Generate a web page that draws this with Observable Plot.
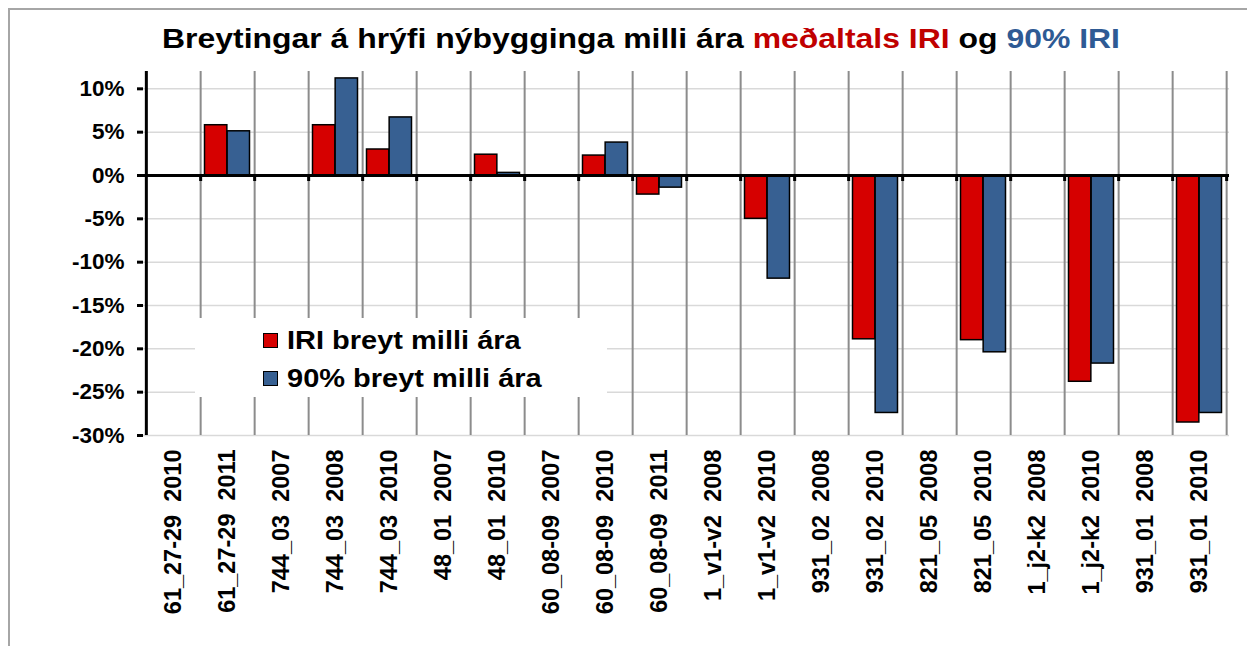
<!DOCTYPE html>
<html>
<head>
<meta charset="utf-8">
<script src="https://cdn.jsdelivr.net/npm/d3@7"></script>
<script src="https://cdn.jsdelivr.net/npm/@observablehq/plot@0.6"></script>
<style>
  html, body { margin: 0; padding: 0; background: #fff; }
  body { width: 1247px; height: 646px; overflow: hidden; position: relative; font-family: "Liberation Sans", Arial, sans-serif; }
  #border { position: absolute; left: 8px; top: 8px; width: 1300px; height: 700px; border: 2px solid #a6a6a6; box-sizing: border-box; pointer-events: none; }
  #title { position: absolute; left: 0; top: 23px; width: 1282px; text-align: center; font-size: 28px; font-weight: bold; color: #000; white-space: nowrap; transform: scaleX(1.14); transform-origin: 641px 0; }
  #title .r { color: #c00000; }
  #title .b { color: #2e5a94; }
  #chart { position: absolute; left: 0; top: 56px; }
  #legend { position: absolute; left: 195px; top: 318px; width: 412px; height: 79px; background: #fff; }
  #legend .row { position: absolute; left: 68px; display: flex; align-items: center; font-size: 25px; font-weight: bold; white-space: nowrap; }
  #legend .sw { width: 13px; height: 13px; border: 1.5px solid #000; margin-right: 9px; }
  #legend .tx { display: inline-block; transform: scaleX(1.16); transform-origin: 0 50%; }
</style>
</head>
<body>
<div id="title"></div>
<div id="chart"></div>
<div id="legend"></div>
<div id="border"></div>
<script>
// ---- data ----
const categories = [
  "61_27-29  2010", "61_27-29  2011", "744_03  2007", "744_03  2008", "744_03  2010",
  "48_01  2007", "48_01  2010", "60_08-09  2007", "60_08-09  2010", "60_08-09  2011",
  "1_v1-v2  2008", "1_v1-v2  2010", "931_02  2008", "931_02  2010", "821_05  2008",
  "821_05  2010", "1_j2-k2  2008", "1_j2-k2  2010", "931_01  2008", "931_01  2010"
];
const iriChange = [null, 5.8, null, 5.8, 3.0, null, 2.4, null, 2.3, -2.2,
                   null, -5.0, null, -18.9, null, -19.0, null, -23.8, null, -28.5];
const p90Change = [null, 5.1, null, 11.2, 6.7, null, 0.3, null, 3.8, -1.4,
                   null, -11.9, null, -27.4, null, -20.4, null, -21.7, null, -27.4];
const seriesNames = ["IRI breyt milli ára", "90% breyt milli ára"];
const yTicks = [-30, -25, -20, -15, -10, -5, 0, 5, 10];
const titleParts = [
  {text: "Breytingar á hrýfi nýbygginga milli ára ", cls: ""},
  {text: "meðaltals IRI", cls: "r"},
  {text: " og ", cls: ""},
  {text: "90% IRI", cls: "b"}
];
const colors = {iri: "#d60000", p90: "#376092"};

// ---- title ----
const t = document.getElementById("title");
titleParts.forEach(p => { const s = document.createElement("span"); s.textContent = p.text; if (p.cls) s.className = p.cls; t.appendChild(s); });

// ---- legend ----
const lg = document.getElementById("legend");
[[seriesNames[0], colors.iri, 8], [seriesNames[1], colors.p90, 46]].forEach(([name, c, top]) => {
  const r = document.createElement("div"); r.className = "row"; r.style.top = top + "px";
  const sw = document.createElement("div"); sw.className = "sw"; sw.style.background = c;
  const tx = document.createElement("span"); tx.className = "tx"; tx.textContent = name;
  r.appendChild(sw); r.appendChild(tx); lg.appendChild(r);
});

// ---- chart ----
const iriData = categories.map((c, i) => ({cat: c, v: iriChange[i]})).filter(d => d.v != null);
const p90Data = categories.map((c, i) => ({cat: c, v: p90Change[i]})).filter(d => d.v != null);

const W = 1247, H = 590, mL = 143, mR = 18;
const step = (W - mL - mR) / categories.length;
const half = step / 2;
const gap = 4.5;
const bw = (step - 2 * gap) / 2;

const plot = Plot.plot({
  width: W, height: H,
  marginLeft: mL, marginRight: mR, marginTop: 15, marginBottom: 211,
  style: {fontFamily: "'Liberation Sans', Arial, sans-serif", background: "transparent", overflow: "visible"},
  x: {domain: categories, padding: 0, label: null},
  y: {domain: [-30, 12], label: null},
  marks: [
    Plot.gridY(yTicks, {stroke: "#d9d9d9", strokeOpacity: 1, strokeWidth: 1.5}),
    Plot.ruleX(categories, {x: d => d, dx: half, stroke: "#8c8c8c", strokeWidth: 2}),
    Plot.barY(iriData, {x: "cat", y: "v", fill: colors.iri, stroke: "#000", strokeWidth: 1.5, insetLeft: gap, insetRight: gap + bw}),
    Plot.barY(p90Data, {x: "cat", y: "v", fill: colors.p90, stroke: "#000", strokeWidth: 1.5, insetLeft: gap + bw, insetRight: gap}),
    Plot.ruleY([0], {stroke: "#000", strokeWidth: 3}),
    Plot.ruleX(categories, {x: d => d, dx: half, y1: 0, y2: 0, insetBottom: -6, stroke: "#000", strokeWidth: 3}),
    Plot.ruleX([categories[0]], {x: d => d, dx: -half, stroke: "#000", strokeWidth: 3}),
    Plot.axisY({ticks: yTicks, tickFormat: d => d + "%", tickSize: 6, tickPadding: 13, stroke: "#000", strokeWidth: 3, fontSize: 22.5, fontWeight: "bold", fill: "#000", label: null}),
    Plot.axisX({tickSize: 0, tickPadding: 14, tickRotate: -90, fontSize: 23.5, fontWeight: "bold", fill: "#000", label: null, tickFormat: d => d.replace(/ /g, "\u00a0")})
  ]
});
document.getElementById("chart").appendChild(plot);
</script>
</body>
</html>
